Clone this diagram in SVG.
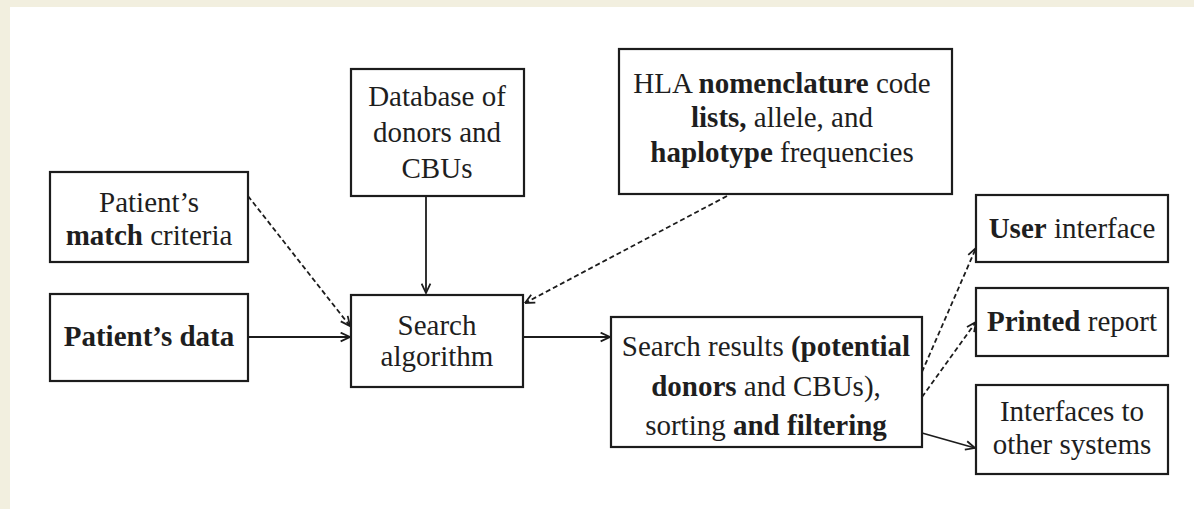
<svg xmlns="http://www.w3.org/2000/svg" width="1194" height="509" viewBox="0 0 1194 509">
<style>
.box{fill:#fff;stroke:#1c1c1c;stroke-width:2.2}
.t{font-family:"Liberation Serif","Times New Roman",serif;font-size:29px;fill:#1e1e1e;text-anchor:middle}
.b{font-weight:bold}
.ln{fill:none;stroke:#1c1c1c;stroke-width:1.8}
.dash{stroke-dasharray:5 3}
</style>
<defs>
<marker id="ah" viewBox="0 0 10 10" refX="9.5" refY="5" markerWidth="11" markerHeight="11" markerUnits="userSpaceOnUse" orient="auto">
<path d="M1,1 L9.5,5 L1,9" fill="none" stroke="#1c1c1c" stroke-width="1.6"/>
</marker>
</defs>
<rect x="0" y="0" width="1194" height="509" fill="#f2efdf"/>
<rect x="10" y="7" width="1184" height="502" fill="#fff"/>

<g id="connectors">
<line class="ln dash" x1="248" y1="196" x2="350" y2="326" marker-end="url(#ah)"/>
<line class="ln" x1="248" y1="337" x2="350" y2="337" marker-end="url(#ah)"/>
<line class="ln" x1="426" y1="196" x2="426" y2="293" marker-end="url(#ah)"/>
<line class="ln dash" x1="727" y1="196" x2="525" y2="303" marker-end="url(#ah)"/>
<line class="ln" x1="523" y1="337" x2="610" y2="337" marker-end="url(#ah)"/>
<line class="ln dash" x1="922" y1="372" x2="976" y2="248" marker-end="url(#ah)"/>
<line class="ln dash" x1="922" y1="397" x2="976" y2="322" marker-end="url(#ah)"/>
<line class="ln" x1="922" y1="433" x2="975" y2="448" marker-end="url(#ah)"/>
</g>

<g id="match-criteria">
<rect class="box" x="50" y="172" width="198" height="90"/>
<text class="t" x="149" y="212">Patient’s</text>
<text class="t" x="149" y="245"><tspan class="b">match</tspan> criteria</text>
</g>

<g id="patient-data">
<rect class="box" x="50" y="294" width="198" height="87"/>
<text class="t b" x="149" y="346">Patient’s data</text>
</g>

<g id="database">
<rect class="box" x="351" y="69" width="173" height="127"/>
<text class="t" x="437" y="106">Database of</text>
<text class="t" x="437" y="142">donors and</text>
<text class="t" x="437" y="178">CBUs</text>
</g>

<g id="hla">
<rect class="box" x="619" y="49" width="333" height="145"/>
<text class="t" x="782" y="93">HLA <tspan class="b">nomenclature</tspan> code</text>
<text class="t" x="782" y="127"><tspan class="b">lists,</tspan> allele, and</text>
<text class="t" x="782" y="162"><tspan class="b">haplotype</tspan> frequencies</text>
</g>

<g id="search-algorithm">
<rect class="box" x="351" y="295" width="172" height="92"/>
<text class="t" x="437" y="335">Search</text>
<text class="t" x="437" y="366">algorithm</text>
</g>

<g id="search-results">
<rect class="box" x="611" y="317" width="311" height="130"/>
<text class="t" x="766" y="356">Search results <tspan class="b">(potential</tspan></text>
<text class="t" x="766" y="396"><tspan class="b">donors</tspan> and CBUs),</text>
<text class="t" x="766" y="435">sorting <tspan class="b">and filtering</tspan></text>
</g>

<g id="user-interface">
<rect class="box" x="976" y="195" width="192" height="67"/>
<text class="t" x="1072" y="238"><tspan class="b">User</tspan> interface</text>
</g>

<g id="printed-report">
<rect class="box" x="976" y="288" width="192" height="68"/>
<text class="t" x="1072" y="331"><tspan class="b">Printed</tspan> report</text>
</g>

<g id="interfaces">
<rect class="box" x="976" y="385" width="192" height="89"/>
<text class="t" x="1072" y="421">Interfaces to</text>
<text class="t" x="1072" y="454">other systems</text>
</g>
</svg>
